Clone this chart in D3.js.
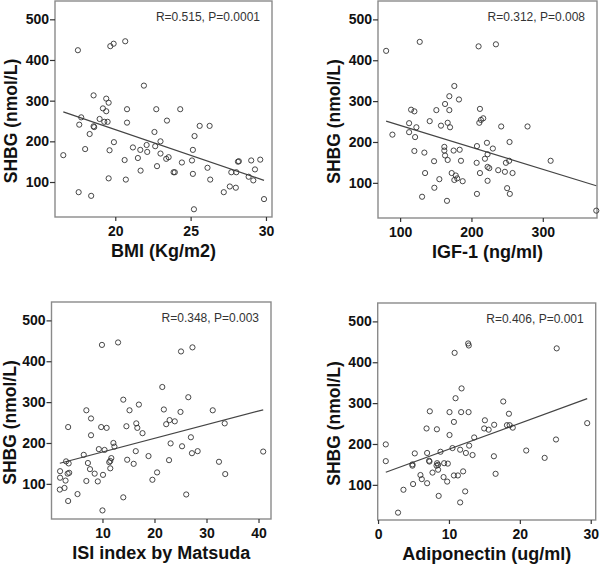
<!DOCTYPE html>
<html><head><meta charset="utf-8">
<script src="https://cdn.jsdelivr.net/npm/d3@7"></script>
<style>
html,body{margin:0;padding:0;background:#fff;}
svg{display:block;font-family:"Liberation Sans",Arial,sans-serif;}
</style></head>
<body>
<svg id="c" width="600" height="569"></svg>
<script>
// ---------- DATA ----------
const yTicks = [100, 200, 300, 400, 500];
const yTitle = "SHBG (nmol/L)";

const bmiTicks = [20, 25, 30];
const bmi = [17.52,19.67,19.89,20.66,21.9,18.56,19.4,19.56,19.18,19.4,20.78,22.72,24.31,17.74,18.96,19.27,19.49,20.78,23.43,17.61,18.56,18.6,25.6,26.26,22.6,18.3,25.26,23.0,19.91,16.55,18.0,19.62,21.17,21.66,22.08,22.12,22.65,23.0,23.38,23.54,25.15,20.62,21.5,22.77,24.42,25.09,28.14,28.2,29.02,29.62,26.12,21.68,23.87,23.95,25.15,27.7,28.03,29.27,28.85,29.16,19.56,20.7,26.3,27.6,28.0,17.57,18.4,27.2,29.87,25.22];
const shbgBmi = [424,434,440,446,337,313,305,295,281,274,279,279,279,259,255,248,248,246,251,241,237,235,238,238,223,218,213,200,198,166,181,178,185,179,191,174,188,170,157,161,179,154,159,139,148,153,150,151,153,155,135,128,124,124,120,124,124,131,113,104,109,106,106,89,86,75,66,75,58,33];
const fitBmi = [481.9, -12.65];

const igfTicks = [100, 200, 300];
const igf = [80.4,127.5,210,234.3,176,169,182.5,163,115.4,120,150.8,169,211.9,141.5,166.7,216.5,213.3,211,112.6,157.3,170,122.8,241.7,278.6,89.2,112.6,121,221.7,253.4,162,207.7,230,120,134,162,175,183.5,163,222.6,166.7,218.9,147.6,185.3,207.3,252.9,248.3,311,222.6,225,237.5,246.9,257.6,211.9,135,172.3,178,180,176,187.7,155,222.6,148,250,130.8,165.7,207.7,253.8,375];
const shbgIgf = [423,445,434,439,337,312,304,293,279,275,278,278,281,251,247,258,254,247,246,240,236,236,238,238,218,224,212,198,200,188,190,184,178,174,179,179,181,167,170,156,159,153,154,149,154,149,154,139,136,131,127,124,124,124,124,118,111,107,104,109,105,88,87,66,56,73,73,32];
const fitIgf = [294.2, -0.537];

const isiTicks = [10, 20, 30, 40];
const isi = [9.9,13.0,25.1,27.3,21.5,26.5,14.0,17.0,6.9,15.2,21.8,25.0,31.2,7.8,22.25,22.9,23.9,3.4,9.75,10.8,14.6,16.5,16.7,17.7,33.5,7.8,27.0,12.1,12.3,9.3,10.4,16.4,23.1,25.3,27.2,28.3,6.4,11.3,11.5,11.7,14.75,16.0,18.85,22.8,40.9,32.4,33.6,7.2,3.0,3.5,7.6,8.5,6.9,9.1,10.1,11.5,20.5,19.6,1.85,3.3,3.6,1.85,2.9,1.8,2.7,3.4,5.2,10.0,14.0,26.1];
const shbgIsi = [440,446,424,434,337,312,306,294,280,280,282,276,280,260,246,256,253,239,239,237,241,248,237,224,248,219,214,200,191,185,183,180,199,192,175,180,171,153,156,163,159,149,168,158,179,154,124,151,155,150,136,125,107,106,122,138,128,110,131,125,127,115,108,86,90,58,75,35,67,74];
const fitIsi = [144.4, 3.344];

const adipoTicks = [0, 10, 20, 30];
const adipo = [12.71,12.8,10.8,25.2,11.78,10.93,17.66,7.3,10.08,11.72,12.77,18.46,10.7,15.07,16.38,14.97,15.6,18.18,18.56,19.0,6.84,8.3,29.5,10.08,13.56,25.1,12.85,1.09,10.5,11.58,8.81,5.18,6.92,12.39,13.33,20.9,16.34,23.5,1.09,7.2,7.25,4.85,4.85,8.33,8.47,8.25,9.32,9.84,7.68,8.47,5.98,6.17,6.92,9.24,9.75,10.7,11.26,12.0,16.58,3.58,4.94,12.29,8.55,2.82,11.58];
const shbgAdipo = [446,441,423,434,336,312,304,280,278,278,278,274,254,258,247,238,235,246,246,240,238,236,251,222,216,211,196,199,190,186,181,177,178,178,173,184,170,166,158,159,157,147,150,153,149,147,153,152,130,137,124,114,104,119,108,123,123,133,127,88,102,84,73,32,57];
const fitAdipo = [123.9, 6.343];

const panels = [
  {xs: bmi, ys: shbgBmi, fit: fitBmi, xTicks: bmiTicks, xTitle: "BMI (Kg/m2)", note: "R=0.515, P=0.0001",
   xDom: [16.0, 30.4], box: [55, 272, 1, 217]},
  {xs: igf, ys: shbgIgf, fit: fitIgf, xTicks: igfTicks, xTitle: "IGF-1 (ng/ml)", note: "R=0.312, P=0.008",
   xDom: [69, 376], box: [378, 597, 1, 218]},
  {xs: isi, ys: shbgIsi, fit: fitIsi, xTicks: isiTicks, xTitle: "ISI index by Matsuda", note: "R=0.348, P=0.003",
   xDom: [0.2, 42.4], box: [51.5, 271, 302, 519]},
  {xs: adipo, ys: shbgAdipo, fit: fitAdipo, xTicks: adipoTicks, xTitle: "Adiponectin (ug/ml)", note: "R=0.406, P=0.001",
   xDom: [-0.05, 30.7], box: [377.7, 595.7, 303, 520]}
];
const yDom = [14, 545];

// ---------- DRAW ----------
const svg = d3.select("#c");

panels.forEach(p => {
  const [L, R, T, B] = p.box;
  const x = d3.scaleLinear().domain(p.xDom).range([L, R]);
  const y = d3.scaleLinear().domain(yDom).range([B, T]);
  const g = svg.append("g");

  // frame
  g.append("rect").attr("x", L).attr("y", T).attr("width", R - L).attr("height", B - T)
    .attr("fill", "none").attr("stroke", "#8a8a8a").attr("stroke-width", 1.4);

  // axes
  const ya = g.append("g").attr("transform", `translate(${L},0)`)
    .call(d3.axisLeft(y).tickValues(yTicks).tickSize(5).tickPadding(1).tickFormat(d3.format("d")));
  const xa = g.append("g").attr("transform", `translate(0,${B})`)
    .call(d3.axisBottom(x).tickValues(p.xTicks).tickSize(4).tickPadding(5).tickFormat(d3.format("d")));
  [ya, xa].forEach(a => {
    a.select(".domain").remove();
    a.selectAll(".tick line").attr("stroke", "#333").attr("stroke-width", 1.2);
    a.selectAll(".tick text").attr("fill", "#111").attr("font-size", 14).attr("font-weight", "bold")
      .attr("font-family", "'Liberation Sans', Arial, sans-serif");
  });

  // regression line
  const x0 = d3.min(p.xs), x1 = d3.max(p.xs);
  g.append("line")
    .attr("x1", x(x0)).attr("y1", y(p.fit[0] + p.fit[1] * x0))
    .attr("x2", x(x1)).attr("y2", y(p.fit[0] + p.fit[1] * x1))
    .attr("stroke", "#444").attr("stroke-width", 1.2);

  // points
  g.selectAll("circle.pt").data(p.xs.map((v, i) => [v, p.ys[i]])).join("circle")
    .attr("class", "pt")
    .attr("cx", d => x(d[0])).attr("cy", d => y(d[1])).attr("r", 2.6)
    .attr("fill", "none").attr("stroke", "#333").attr("stroke-width", 0.9);

  // annotation
  g.append("text").attr("x", R - 12).attr("y", T + 20).attr("text-anchor", "end")
    .attr("font-size", 12).attr("fill", "#333").text(p.note);

  // titles
  g.append("text").attr("x", (L + R) / 2).attr("y", B + 40).attr("text-anchor", "middle")
    .attr("font-size", 18).attr("font-weight", "bold").attr("fill", "#111").text(p.xTitle);
  const cy = (T + B) / 2 + 12, cx = Math.max(L - 44, 10);
  g.append("text").attr("transform", `translate(${cx},${cy}) rotate(-90)`)
    .attr("text-anchor", "middle").attr("dominant-baseline", "central")
    .attr("font-size", 17.5).attr("font-weight", "bold").attr("fill", "#111").text(yTitle);
});
</script>
</body></html>
